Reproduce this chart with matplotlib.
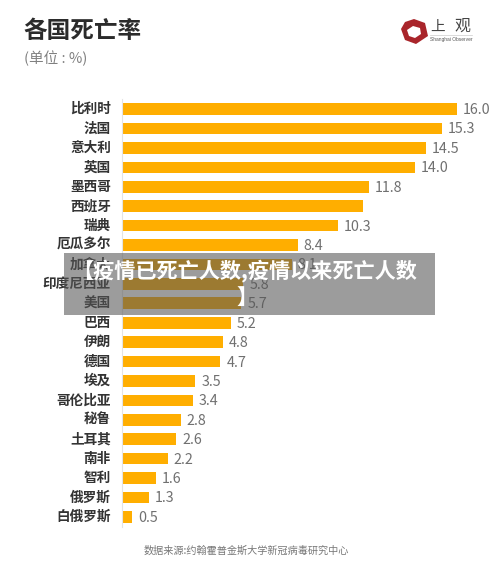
import matplotlib
matplotlib.use('Agg')
import matplotlib.pyplot as plt
from matplotlib.patches import Polygon, Rectangle
from matplotlib.transforms import ScaledTranslation

plt.rcParams['font.family'] = ['Noto Sans CJK SC', 'DejaVu Sans']

W = 500
H = 568

countries = ['比利时', '法国', '意大利', '英国', '墨西哥', '西班牙', '瑞典', '厄瓜多尔',
             '加拿大', '印度尼西亚', '美国', '巴西', '伊朗', '德国', '埃及', '哥伦比亚',
             '秘鲁', '土耳其', '南非', '智利', '俄罗斯', '白俄罗斯']
rates = [16.0, 15.3, 14.5, 14.0, 11.8, 11.5, 10.3, 8.4, 8.1, 5.8, 5.7, 5.2,
         4.8, 4.7, 3.5, 3.4, 2.8, 2.6, 2.2, 1.6, 1.3, 0.5]
rate_labels = ['16.0', '15.3', '14.5', '14.0', '11.8', '', '10.3', '8.4', '8.1', '5.8', '5.7', '5.2',
               '4.8', '4.7', '3.5', '3.4', '2.8', '2.6', '2.2', '1.6', '1.3', '0.5']

fig = plt.figure(figsize=(W / 100, H / 100), dpi=100, facecolor='white')

# bar area, in pixels: left 122, top 99, bottom 527
ax = fig.add_axes([122 / W, 1 - 527 / H, (W - 122) / W, (527 - 99) / H])
pos = list(range(len(countries)))
ax.barh(pos, rates, height=0.6, color='#FFAE00')
ax.set_xlim(0, (W - 122) / 20.94)
ax.set_ylim(len(countries) - 0.5 + 0.02, -0.5 - 0.02)
ax.set_yticks(pos)
ax.set_yticklabels(countries, fontsize=9.8, fontweight='bold', color='#333333')
ax.tick_params(axis='y', length=0, pad=8)
ax.set_xticks([])
for s in ['top', 'right', 'bottom']:
    ax.spines[s].set_visible(False)
ax.spines['left'].set_color('#E4E4E4')
ax.spines['left'].set_linewidth(0.8)
# CJK glyphs sit a bit low when centred
up = ScaledTranslation(0, 1.5 / 100, fig.dpi_scale_trans)
for lab in ax.get_yticklabels():
    lab.set_transform(lab.get_transform() + up)
for p, r, lab in zip(pos, rates, rate_labels):
    ax.text(r + 0.28, p + 0.05, lab, va='center', ha='left', fontsize=10.3, color='#707070')

# overlay in pixel coordinates for title, logo, footer and banner
ov = fig.add_axes([0, 0, 1, 1], zorder=5)
ov.set_xlim(0, W)
ov.set_ylim(H, 0)
ov.axis('off')
ov.patch.set_alpha(0)

ov.text(23, 31.5, '各国死亡率', fontsize=17, fontweight='bold', color='#2B2B2B', va='center', ha='left')
ov.text(24, 58, '(单位 : %)', fontsize=10.5, color='#808080', va='center', ha='left')
ov.text(246, 551, '数据来源:约翰霍普金斯大学新冠病毒研究中心', fontsize=7.3, color='#777777',
        va='center', ha='center')

# logo
outer = [(414, 19), (425, 23), (428, 36), (416, 44), (405, 40), (401, 29), (405, 22)]
inner = [(413, 26), (420, 28), (421, 34), (415, 38), (409, 36), (407, 30)]
ov.add_patch(Polygon(outer, closed=True, color='#A9252B', lw=0))
ov.add_patch(Polygon(inner, closed=True, color='white', lw=0))
ov.text(438, 26.5, '上', fontsize=10.5, color='#444444', va='center', ha='center')
ov.text(462, 26.5, '观', fontsize=11.5, color='#444444', va='center', ha='center')
ov.plot([430, 472], [35, 35], color='#CCCCCC', lw=0.5)
ov.text(451, 40, 'Shanghai Observer', fontsize=3.5, color='#555555', va='center', ha='center',
        family=['Liberation Sans', 'DejaVu Sans'])

# banner over the chart
ov.add_patch(Rectangle((64, 253), 371, 62, facecolor='#555555', alpha=0.58, lw=0, zorder=6))
ov.text(72, 271, '【疫情已死亡人数,疫情以来死亡人数', fontsize=15.2, fontweight='bold', color='white',
        va='center', ha='left', zorder=7)
ov.text(236, 297, '】', fontsize=15.2, fontweight='bold', color='white', va='center', ha='left', zorder=7)

fig.savefig('out.png', dpi=100)
